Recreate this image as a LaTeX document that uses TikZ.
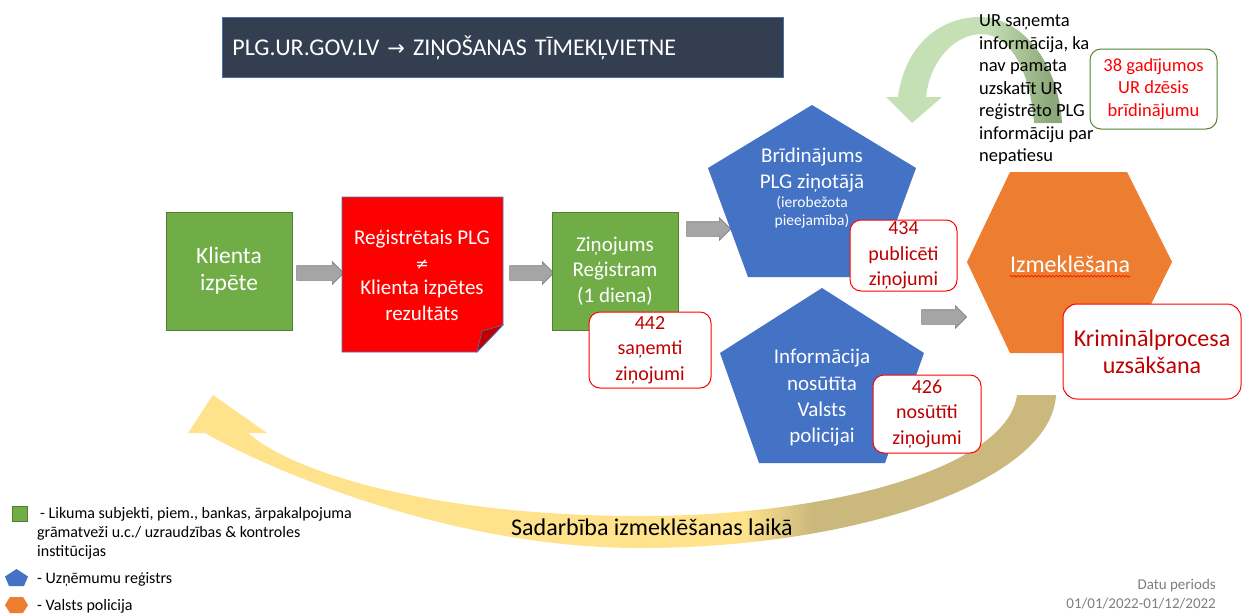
\documentclass[tikz,border=0pt]{standalone}
\usepackage{fontspec}
\setmainfont{Carlito}
\newfontfamily\symfont{DejaVu Sans}
\usetikzlibrary{shapes.arrows,decorations.pathmorphing}
\definecolor{kgreen}{HTML}{70AD47}
\definecolor{kgreenline}{HTML}{507E32}
\definecolor{kblue}{HTML}{4472C4}
\definecolor{korange}{HTML}{ED7D31}
\definecolor{kgrey}{HTML}{A5A5A5}
\definecolor{kgreyline}{HTML}{7F7F7F}
\definecolor{kdarkred}{HTML}{C00000}
\definecolor{kred}{HTML}{FF0000}
\definecolor{ktitle}{HTML}{333F50}
\definecolor{ktitleline}{HTML}{4A6FA5}
\definecolor{kfold}{HTML}{C00000}
\definecolor{kboxgreen}{HTML}{548235}
\definecolor{glight}{HTML}{C5E0B4}
\definecolor{gdark}{HTML}{8CA87A}
\definecolor{ylight}{HTML}{FFE28C}
\definecolor{ytan}{HTML}{CBB87C}
\definecolor{kdatu}{HTML}{7F7F7F}
\pgfdeclarehorizontalshading{greenarc}{100bp}{color(0bp)=(glight); color(54bp)=(glight); color(72bp)=(gdark); color(100bp)=(gdark)}
\pgfdeclarehorizontalshading{goldarc}{100bp}{color(0bp)=(ylight); color(57bp)=(ylight); color(61bp)=(ytan); color(100bp)=(ytan)}
\newcommand{\fsz}[2]{\fontsize{#1}{#2}\selectfont}
\begin{document}
\begin{tikzpicture}[x=1pt,y=-1pt,
  every node/.style={inner sep=0pt},
  greenbox/.style={fill=kgreen, draw=kgreenline, line width=0.6pt, minimum width=126pt, minimum height=118pt, text=white, align=center},
  blockarrow/.style={single arrow, fill=kgrey, draw=kgreyline, line width=0.6pt, inner ysep=7pt, inner xsep=0pt, single arrow head extend=4pt, single arrow head indent=0pt},
  countbox/.style={fill=white, draw=kred, line width=1pt, rounded corners=11pt, text=kdarkred, align=center, font=\fsz{20}{25.5}},
  whitetext/.style={text=white, align=center},
  legendtext/.style={align=left, font=\fsz{16}{19}, anchor=west},
]
\useasboundingbox[fill=white] (0,0) rectangle (1242,614);

% curved arrows (background)
\shade[shading=greenarc] (1062,123) .. controls (1058,60) and (1020,17) .. (980,17) .. controls (940,17) and (905,45) .. (898,97) -- (886,97) -- (912,123) -- (942,97) -- (926,97) .. controls (930,60) and (955,34) .. (982,34) .. controls (1010,35) and (1030,70) .. (1034,123) -- cycle;
\shade[shading=goldarc] (1056,395) .. controls (1052,480) and (860,548) .. (640,548) .. controls (450,548) and (270,470) .. (205,433) -- (188,433) -- (213,395) -- (267,433) -- (248,433) .. controls (300,478) and (450,516) .. (640,516) .. controls (840,516) and (1008,465) .. (1017,395) -- cycle;

% title
\node[fill=ktitle, draw=ktitleline, line width=0.8pt, anchor=north west, minimum width=561pt, minimum height=60pt, text width=541pt, inner xsep=10pt, align=left, text=white, font=\fsz{24}{28}] (title) at (222,17) {PLG.UR.GOV.LV {\symfont\fontsize{21}{28}\selectfont →} ZIŅOŠANAS TĪMEKĻVIETNE};

% process chain
\node[greenbox, font=\fsz{23.5}{27}] (klienta) at (229,271) {Klienta\\izpēte};
\node[blockarrow, minimum height=47pt] (a1) at (316.5,273) {};

\filldraw[fill=kred, draw=kblue, line width=0.8pt] (342,197) -- (503,197) -- (503,325) -- (477,352) -- (342,352) -- cycle;
\filldraw[fill=kfold, draw=kblue, line width=0.6pt] (503,325) -- (482,331) -- (477,352) -- cycle;
\node[whitetext, font=\fsz{21}{25.3}] (regplg) at (422,275) {Reģistrētais PLG\\{\symfont\fontsize{16}{25.3}\selectfont ≠}\\Klienta izpētes\\rezultāts};
\node[blockarrow, minimum height=44pt] (a2) at (528,273) {};

\node[greenbox, font=\fsz{21}{25.5}] (zinojums) at (615,271) {Ziņojums\\Reģistram\\(1 diena)};
\node[countbox, minimum width=122pt, minimum height=76pt] (n442) at (650,350) {442\\saņemti\\ziņojumi};
\node[blockarrow, minimum height=44pt] (a3) at (705,229) {};

% Uznemumu registrs
\fill[kblue] (812,105) -- (916,168) -- (876,277) -- (748,277) -- (708,168) -- cycle;
\node[whitetext, font=\fsz{21}{26}] (brid) at (812,170) {Brīdinājums\\PLG ziņotājā};
\node[whitetext, font=\fsz{15.5}{17.5}] (ierob) at (812,212) {(ierobežota\\pieejamība)};
\node[countbox, minimum width=107pt, minimum height=71pt] (n434) at (903.5,255.5) {434\\publicēti\\ziņojumi};

\fill[kblue] (822,288) -- (924,353) -- (885,463) -- (759,463) -- (720,353) -- cycle;
\node[whitetext, font=\fsz{21}{26.3}] (info) at (822,398) {Informācija\\nosūtīta\\Valsts\\policijai};
\node[countbox, minimum width=108pt, minimum height=78pt] (n426) at (927,414) {426\\nosūtīti\\ziņojumi};

\node[blockarrow, minimum height=45pt] (a4) at (940.5,317) {};

% Valsts policija
\fill[korange] (1010,172) -- (1127,172) -- (1172,262) -- (1127,353) -- (1010,353) -- (967,262) -- cycle;
\node[text=white, font=\fsz{24}{28}] (izmek) at (1070,264) {Izmeklēšana};
\draw[kred, line width=0.6pt, decorate, decoration={snake, segment length=3.5pt, amplitude=0.9pt}] ([yshift=-4pt]izmek.base west) -- ([yshift=-4pt]izmek.base east);
\node[countbox, font=\fsz{24}{27}, rounded corners=14pt, minimum width=178pt, minimum height=95pt] (krim) at (1152,351.5) {Kriminālprocesa\\uzsākšana};

% UR note
\node[anchor=west, align=left, font=\fsz{18.5}{22.5}] (urtext) at (979,90) {UR saņemta\\informācija, ka\\nav pamata\\uzskatīt UR\\reģistrēto PLG\\informāciju par\\nepatiesu};
\node[countbox, draw=kboxgreen, text=kred, font=\fsz{18.5}{22.5}, minimum width=127pt, minimum height=80pt] (n38) at (1153.5,89) {38 gadījumos\\UR dzēsis\\brīdinājumu};

\node[font=\fsz{24}{28}] (sadarb) at (652,527) {Sadarbība izmeklēšanas laikā};

% legend
\filldraw[fill=kgreen, draw=kgreenline, line width=0.6pt] (12,506) rectangle (27,521);
\node[legendtext, anchor=north west] (leg1) at (37,507) {\hspace*{3pt}- Likuma subjekti, piem., bankas, ārpakalpojuma\\grāmatveži u.c./ uzraudzības \& kontroles\\institūcijas};
\fill[kblue] (16.5,569) -- (28,576.5) -- (24,586) -- (9,586) -- (5,576.5) -- cycle;
\node[legendtext] (leg2) at (37,579) {- Uzņēmumu reģistrs};
\fill[korange] (10,597) -- (23,597) -- (28,605) -- (23,613) -- (10,613) -- (5,605) -- cycle;
\node[legendtext] (leg3) at (37,606) {- Valsts policija};

\node[anchor=east, align=right, text=kdatu, font=\fsz{15}{19}] (datu) at (1216,594) {Datu periods\\01/01/2022-01/12/2022};
\end{tikzpicture}
\end{document}
